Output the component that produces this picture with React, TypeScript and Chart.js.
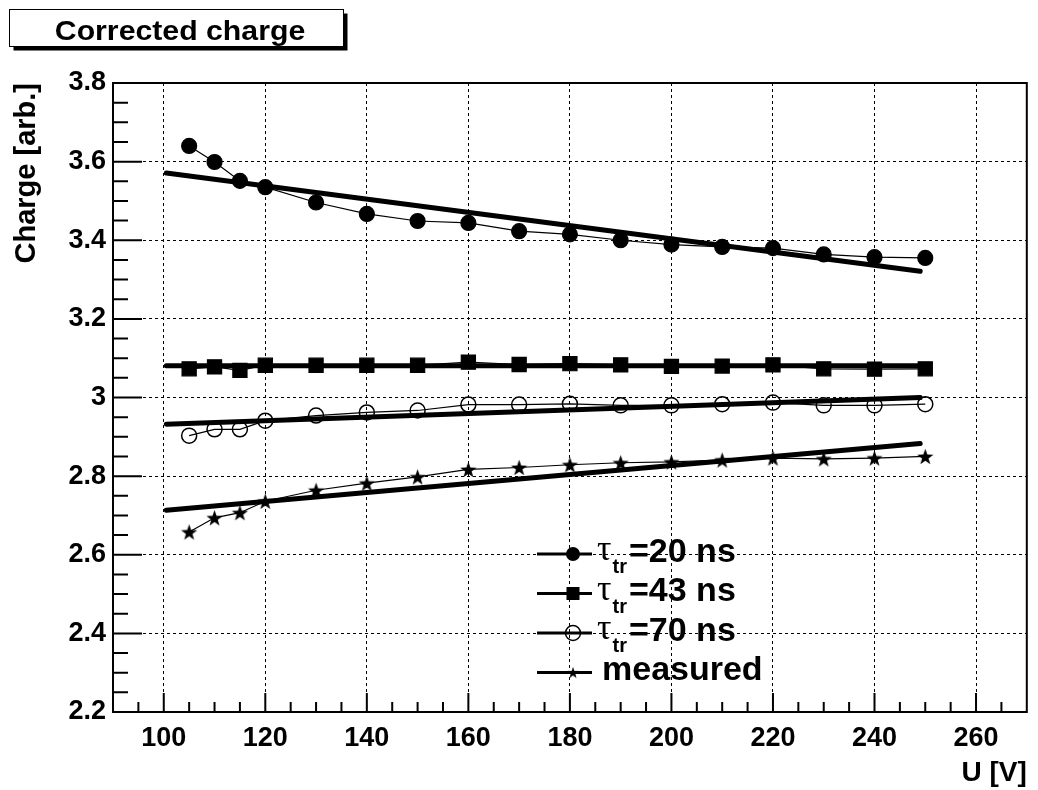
import React, { useEffect, useRef } from 'react';
import { Chart, registerables } from 'chart.js';

Chart.register(...registerables);

// ---------- data ----------
const voltages = [105, 110, 115, 120, 130, 140, 150, 160, 170, 180, 190, 200, 210, 220, 230, 240, 250];
const charge20 = [3.640, 3.599, 3.551, 3.535, 3.496, 3.467, 3.449, 3.444, 3.423, 3.415, 3.400, 3.389, 3.383, 3.380, 3.364, 3.357, 3.355];
const charge43 = [3.073, 3.078, 3.069, 3.082, 3.082, 3.082, 3.082, 3.090, 3.084, 3.086, 3.083, 3.079, 3.080, 3.083, 3.073, 3.072, 3.073];
const charge70 = [2.903, 2.919, 2.919, 2.941, 2.954, 2.962, 2.967, 2.982, 2.982, 2.984, 2.980, 2.980, 2.983, 2.987, 2.980, 2.980, 2.983];
const chargeMeasured = [2.658, 2.694, 2.707, 2.736, 2.764, 2.782, 2.798, 2.817, 2.822, 2.829, 2.834, 2.836, 2.841, 2.846, 2.844, 2.846, 2.850];

// straight-line fits (end points)
const fitX = [100.5, 249];
const fit20 = [3.571, 3.321];
const fit43 = [3.081, 3.081];
const fit70 = [2.932, 3.000];
const fitMeasured = [2.713, 2.883];

const xTicks = [100, 120, 140, 160, 180, 200, 220, 240, 260];
const yTicks = [2.2, 2.4, 2.6, 2.8, 3.0, 3.2, 3.4, 3.6, 3.8];
const yTickLabels = ['2.2', '2.4', '2.6', '2.8', '3', '3.2', '3.4', '3.6', '3.8'];
const xRange = [90, 270];
const yRange = [2.2, 3.8];

const titleText = 'Corrected charge';
const xTitle = 'U [V]';
const yTitle = 'Charge [arb.]';
const legendMain = ['=20 ns', '=43 ns', '=70 ns', 'measured'];
const legendTau = [true, true, true, false];

const FONT = '"Liberation Sans", Arial, Helvetica, sans-serif';

function makeStar(outer: number, inner: number): HTMLCanvasElement {
  const size = Math.ceil(outer * 2) + 2;
  const c = document.createElement('canvas');
  c.width = size;
  c.height = size;
  const g = c.getContext('2d')!;
  g.translate(size / 2, size / 2 + outer * 0.1);
  g.beginPath();
  for (let i = 0; i < 10; i++) {
    const r = i % 2 === 0 ? outer : inner;
    const a = -Math.PI / 2 + (i * Math.PI) / 5;
    g.lineTo(r * Math.cos(a), r * Math.sin(a));
  }
  g.closePath();
  g.fillStyle = '#000';
  g.fill();
  return c;
}

function pts(xs: number[], ys: number[]) {
  return xs.map((x, i) => ({ x, y: ys[i] }));
}

function drawMarker(ctx: CanvasRenderingContext2D, kind: string, x: number, y: number, star: HTMLCanvasElement) {
  ctx.save();
  ctx.fillStyle = '#000';
  ctx.strokeStyle = '#000';
  if (kind === 'circle') {
    ctx.beginPath();
    ctx.arc(x, y, 7, 0, Math.PI * 2);
    ctx.fill();
  } else if (kind === 'square') {
    ctx.fillRect(x - 6.5, y - 6.5, 13, 13);
  } else if (kind === 'open') {
    ctx.lineWidth = 1.5;
    ctx.beginPath();
    ctx.arc(x, y, 7.5, 0, Math.PI * 2);
    ctx.stroke();
  } else {
    ctx.drawImage(star, x - star.width / 2, y - star.height / 2);
  }
  ctx.restore();
}

export default function App() {
  const ref = useRef<HTMLCanvasElement>(null);

  useEffect(() => {
    const canvas = ref.current!;
    const starBig = makeStar(8.5, 3.4);
    const starSmall = makeStar(6, 2.4);
    const markers = ['circle', 'square', 'open', 'star'];

    const decor = {
      id: 'rootDecor',
      afterDraw(chart: any) {
        const { ctx, chartArea: a, scales } = chart;
        const xs = scales.x;
        const ys = scales.y;
        ctx.save();
        // inner ticks, y axis
        ctx.strokeStyle = '#000';
        ctx.lineWidth = 2;
        ctx.beginPath();
        for (let i = 1; i < 32; i++) {
          const v = yRange[0] + i * 0.05;
          const y = ys.getPixelForValue(v);
          const len = i % 4 === 0 ? 29 : 15;
          ctx.moveTo(a.left, y);
          ctx.lineTo(a.left + len, y);
        }
        // inner ticks, x axis
        for (let v = xRange[0] + 5; v < xRange[1]; v += 5) {
          const x = xs.getPixelForValue(v);
          const len = (v - 100) % 20 === 0 ? 19 : 10;
          ctx.moveTo(x, a.bottom);
          ctx.lineTo(x, a.bottom - len);
        }
        ctx.stroke();
        // frame
        ctx.lineWidth = 2;
        ctx.strokeRect(a.left, a.top, a.right - a.left, a.bottom - a.top);

        // title box with shadow
        const bx = 9.5, by = 9.5, bw = 334, bh = 37;
        ctx.fillStyle = '#000';
        ctx.fillRect(bx + 4, by + 4, bw, bh);
        ctx.fillStyle = '#fff';
        ctx.fillRect(bx, by, bw, bh);
        ctx.lineWidth = 1;
        ctx.strokeStyle = '#000';
        ctx.strokeRect(bx, by, bw, bh);
        ctx.fillStyle = '#000';
        ctx.font = `bold 28px ${FONT}`;
        ctx.textAlign = 'center';
        ctx.textBaseline = 'alphabetic';
        ctx.save();
        ctx.translate(180, 39.5);
        ctx.scale(1.08, 1);
        ctx.fillText(titleText, 0, 0);
        ctx.restore();

        // legend
        const rowsY = [554, 593.5, 633, 672.5];
        legendMain.forEach((label, i) => {
          const y = rowsY[i];
          ctx.strokeStyle = '#000';
          ctx.lineWidth = 3;
          ctx.beginPath();
          ctx.moveTo(537, y);
          ctx.lineTo(592, y);
          ctx.stroke();
          drawMarker(ctx, markers[i], 573, y, starSmall);
          ctx.fillStyle = '#000';
          ctx.textAlign = 'left';
          ctx.textBaseline = 'alphabetic';
          if (legendTau[i]) {
            ctx.font = `36px "Liberation Serif", "DejaVu Serif", serif`;
            ctx.fillText('τ', 597, y + 6);
            ctx.font = `bold 20px ${FONT}`;
            ctx.fillText('tr', 612.5, y + 19);
            ctx.font = `bold 34px ${FONT}`;
            ctx.fillText(label, 629, y + 7.5);
          } else {
            ctx.font = `bold 34px ${FONT}`;
            ctx.fillText(label, 602, y + 7.5);
          }
        });
        ctx.restore();
      },
    };

    const dataStyle = (extra: any) => ({
      borderColor: '#000',
      borderWidth: 1.2,
      pointBorderColor: '#000',
      pointBackgroundColor: '#000',
      showLine: true,
      order: 2,
      ...extra,
    });
    const fitStyle = {
      borderColor: '#000',
      borderWidth: 5,
      pointRadius: 0,
      borderCapStyle: 'round',
      showLine: true,
      order: 1,
    };

    const chart = new Chart(canvas, {
      type: 'scatter',
      data: {
        datasets: [
          dataStyle({ label: 'τtr=20 ns', data: pts(voltages, charge20), pointStyle: 'circle', pointRadius: 7.5 }),
          dataStyle({ label: 'τtr=43 ns', data: pts(voltages, charge43), pointStyle: 'rect', pointRadius: 10 }),
          dataStyle({
            label: 'τtr=70 ns',
            data: pts(voltages, charge70),
            pointStyle: 'circle',
            pointRadius: 7.5,
            pointBackgroundColor: 'rgba(0,0,0,0)',
            pointBorderWidth: 1.5,
          }),
          dataStyle({ label: 'measured', data: pts(voltages, chargeMeasured), pointStyle: starBig, pointRadius: 8 }),
          { ...fitStyle, label: 'fit 20', data: pts(fitX, fit20) },
          { ...fitStyle, label: 'fit 43', data: pts(fitX, fit43) },
          { ...fitStyle, label: 'fit 70', data: pts(fitX, fit70) },
          { ...fitStyle, label: 'fit measured', data: pts(fitX, fitMeasured) },
        ] as any,
      },
      options: {
        animation: false,
        responsive: false,
        maintainAspectRatio: false,
        layout: { padding: { top: 83, right: 4, left: 0, bottom: 0 } },
        plugins: { legend: { display: false }, tooltip: { enabled: false }, title: { display: false } },
        scales: {
          x: {
            type: 'linear',
            min: xRange[0],
            max: xRange[1],
            afterBuildTicks: (s: any) => {
              s.ticks = xTicks.map((v) => ({ value: v }));
            },
            afterFit: (s: any) => {
              s.height = 78;
            },
            ticks: {
              color: '#000',
              font: { family: FONT, size: 27, weight: 'bold' },
              padding: 10,
              maxRotation: 0,
              autoSkip: false,
            },
            grid: { color: '#000', lineWidth: 1, drawTicks: false },
            border: { display: false, dash: [3, 3] },
            title: {
              display: true,
              text: xTitle,
              align: 'end',
              color: '#000',
              font: { family: FONT, size: 28, weight: 'bold' },
              padding: { top: 0, bottom: 0 },
            },
          },
          y: {
            type: 'linear',
            min: yRange[0],
            max: yRange[1],
            afterBuildTicks: (s: any) => {
              s.ticks = yTicks.map((v) => ({ value: v }));
            },
            afterFit: (s: any) => {
              s.width = 113;
            },
            ticks: {
              color: '#000',
              font: { family: FONT, size: 27, weight: 'bold' },
              padding: 7,
              autoSkip: false,
              callback: (_v: any, i: number) => yTickLabels[i],
            },
            grid: { color: '#000', lineWidth: 1, drawTicks: false },
            border: { display: false, dash: [3, 3] },
            title: {
              display: true,
              text: yTitle,
              align: 'end',
              color: '#000',
              font: { family: FONT, size: 29, weight: 'bold' },
              padding: { top: 10, bottom: 0 },
            },
          },
        },
      } as any,
      plugins: [decor],
    });
    return () => chart.destroy();
  }, []);

  return (
    <div style={{ position: 'absolute', left: 0, top: 0, width: 1038, height: 790, background: '#fff' }}>
      <canvas ref={ref} width={1038} height={790} style={{ display: 'block', width: 1038, height: 790 }} />
    </div>
  );
}
